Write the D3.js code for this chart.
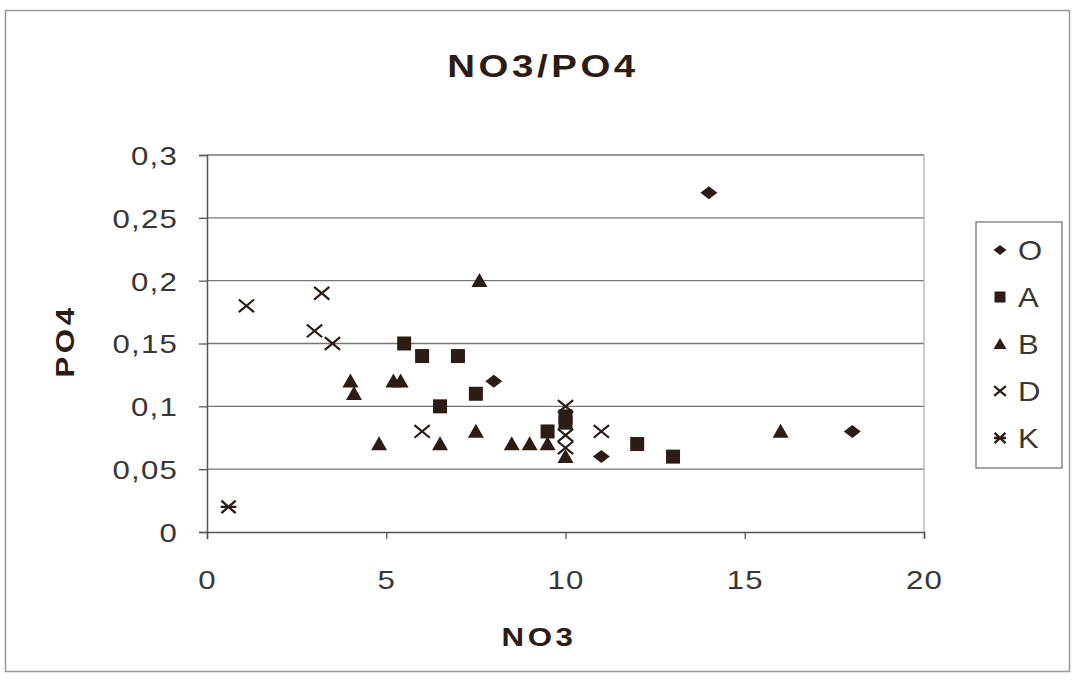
<!DOCTYPE html>
<html><head><meta charset="utf-8">
<script src="https://cdn.jsdelivr.net/npm/d3@7"></script>
<style>body{margin:0;background:#fff}svg{display:block}text{font-family:"Liberation Sans",Arial,sans-serif}</style>
</head><body><svg id="c" width="1075" height="682"></svg>
<script>
const xTicks = [0, 5, 10, 15, 20];
const yTicks = [0, 0.05, 0.1, 0.15, 0.2, 0.25, 0.3];
const seriesNames = ["O", "A", "B", "D", "K"];
const seriesO = [[8, 0.12], [14, 0.27], [11, 0.06], [18, 0.08]];
const seriesA = [[5.5, 0.15], [6, 0.14], [7, 0.14], [7.5, 0.11], [6.5, 0.1], [9.5, 0.08], [10, 0.092], [10, 0.087], [12, 0.07], [13, 0.06]];
const seriesB = [[7.6, 0.2], [4, 0.12], [4.1, 0.11], [5.2, 0.12], [5.4, 0.12], [4.8, 0.07], [6.5, 0.07], [7.5, 0.08], [8.5, 0.07], [9, 0.07], [9.5, 0.07], [10, 0.06], [16, 0.08]];
const seriesD = [[1.1, 0.18], [3.2, 0.19], [3, 0.16], [3.5, 0.15], [6, 0.08], [10, 0.1], [10, 0.077], [10, 0.067], [11, 0.08]];
const seriesK = [[0.6, 0.02]];
const allSeries = [seriesO, seriesA, seriesB, seriesD, seriesK];

const ink = "#2b1c16";
const SX = 1.2; // horizontal stretch of the scanned glyphs
const svg = d3.select("#c");
svg.append("rect").attr("x", 5.5).attr("y", 10.5).attr("width", 1064).attr("height", 661)
  .attr("fill", "#fff").attr("stroke", "#999").attr("stroke-width", 1.5);

const L = 207, R = 924, T = 155, B = 532;
const x = d3.scaleLinear().domain([0, 20]).range([L, R]);
const y = d3.scaleLinear().domain([0, 0.3]).range([B, T]);

svg.append("g").selectAll("line").data(yTicks.filter(v => v > 0)).join("line")
  .attr("x1", L).attr("x2", R).attr("y1", d => y(d)).attr("y2", d => y(d))
  .attr("stroke", "#7a7572").attr("stroke-width", 1.3);
svg.append("line").attr("x1", R).attr("x2", R).attr("y1", T).attr("y2", B)
  .attr("stroke", "#aaa").attr("stroke-width", 1.2);

const fmt = d => String(d).replace(".", ",");
const yAxis = svg.append("g").attr("transform", `translate(${L},0)`)
  .call(d3.axisLeft(y).tickValues(yTicks).tickFormat(fmt).tickSize(8));
const xAxis = svg.append("g").attr("transform", `translate(0,${B})`)
  .call(d3.axisBottom(x).tickValues(xTicks).tickSize(7));
[yAxis, xAxis].forEach(g => {
  g.select(".domain").attr("stroke", "#555").attr("stroke-width", 1.5);
  g.selectAll(".tick line").attr("stroke", "#555").attr("stroke-width", 1.3);
  g.selectAll(".tick text").attr("fill", "#3a3634").style("font-size", "26px").style("letter-spacing", "1px")
   .style("font-family", '"Liberation Sans", Arial, sans-serif');
});
yAxis.selectAll(".tick text").attr("x", null).attr("dy", "0.36em")
  .attr("transform", `translate(-29,0) scale(${SX},1)`);
xAxis.selectAll(".tick text").attr("y", null).attr("dy", null)
  .attr("transform", `translate(0,57) scale(${SX},1)`);

function title(txt, tx, ty, size, rot) {
  svg.append("text").attr("transform", `translate(${tx},${ty}) ${rot ? "rotate(-90)" : ""} scale(${SX},1)`)
    .attr("text-anchor", "middle").attr("fill", ink).style("font-size", size + "px")
    .style("font-weight", "bold").style("letter-spacing", "3px").text(txt);
}
title("NO3/PO4", 543, 77, 32, false);
title("NO3", 539, 646, 26, false);
title("PO4", 74, 341, 26, true);

function marker(g, i, w, h) {
  if (i === 0) g.append("path").attr("d", `M0,${-h / 2}L${w / 2},0L0,${h / 2}L${-w / 2},0Z`).attr("fill", ink);
  else if (i === 1) g.append("rect").attr("x", -w / 2).attr("y", -h / 2).attr("width", w).attr("height", h).attr("fill", ink);
  else if (i === 2) g.append("path").attr("d", `M0,${-h * 0.55}L${w / 2},${h * 0.45}L${-w / 2},${h * 0.45}Z`).attr("fill", ink);
  else if (i === 3) { const a = w * 0.45, b = h * 0.45; g.append("path").attr("d", `M${-a},${-b}L${a},${b}M${-a},${b}L${a},${-b}`).attr("stroke", ink).attr("stroke-width", 2.2).attr("fill", "none"); }
  else { const a = w * 0.42, b = h * 0.42; g.append("path").attr("d", `M${-a},${-b}L${a},${b}M${-a},${b}L${a},${-b}M${-a * 1.1},0L${a * 1.1},0`).attr("stroke", ink).attr("stroke-width", 2.4).attr("fill", "none"); }
}
const mw = [17, 14, 16, 17, 17], mh = [13, 14, 14, 14, 15];
allSeries.forEach((ser, i) => {
  svg.append("g").selectAll("g").data(ser).join("g")
    .attr("transform", d => `translate(${x(d[0])},${y(d[1])})`)
    .each(function () { marker(d3.select(this), i, mw[i], mh[i]); });
});

svg.append("rect").attr("x", 976).attr("y", 222).attr("width", 86).attr("height", 246)
  .attr("fill", "#fff").attr("stroke", "#777").attr("stroke-width", 1.3);
const lw = [13, 11, 13, 13, 13], lh = [10, 11, 11, 11, 12];
const lg = svg.append("g").selectAll("g").data(seriesNames).join("g")
  .attr("transform", (d, i) => `translate(0,${250 + i * 47})`);
lg.each(function (d, i) {
  const g = d3.select(this);
  marker(g.append("g").attr("transform", "translate(1000,0)"), i, lw[i], lh[i]);
  g.append("text").attr("transform", "translate(1018,0) scale(1.15,1)").attr("dy", "0.36em").attr("fill", "#3a3634")
    .style("font-size", "27px").text(d);
});
</script></body></html>
